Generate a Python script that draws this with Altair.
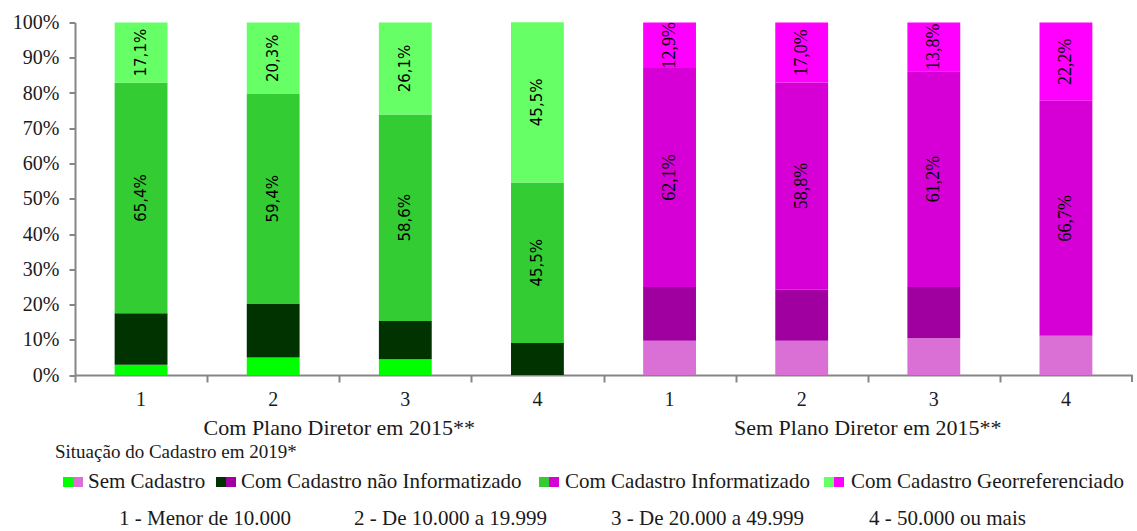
import altair as alt
import pandas as pd

# --- data -----------------------------------------------------------------
slots = ["C1", "C2", "C3", "C4", "S1", "S2", "S3", "S4"]
sides = ["Com", "Com", "Com", "Com", "Sem", "Sem", "Sem", "Sem"]
size_classes = ["1", "2", "3", "4", "1", "2", "3", "4"]
group_names = ["Com Plano Diretor em 2015**", "Sem Plano Diretor em 2015**"]
group_anchor = ["C2", "S2"]

statuses = [
    "Sem Cadastro",
    "Com Cadastro não Informatizado",
    "Com Cadastro Informatizado",
    "Com Cadastro Georreferenciado",
]
sem_cadastro = [2.9, 5.0, 4.5, 0.0, 9.7, 9.7, 10.4, 11.1]
nao_informatizado = [14.6, 15.3, 10.8, 9.1, 15.3, 14.5, 14.6, 0.0]
informatizado = [65.4, 59.4, 58.6, 45.5, 62.1, 58.8, 61.2, 66.7]
georreferenciado = [17.1, 20.3, 26.1, 45.5, 12.9, 17.0, 13.8, 22.2]

size_legend = [
    "1 - Menor de 10.000",
    "2 - De 10.000 a 19.999",
    "3 - De 20.000 a 49.999",
    "4 - 50.000 ou mais",
]

com_colors = ["#00FF00", "#003300", "#33CC33", "#66FF66"]
sem_colors = ["#DA70D6", "#A0009F", "#D600D6", "#FF00FF"]

# --- long table -------------------------------------------------------------
series = [sem_cadastro, nao_informatizado, informatizado, georreferenciado]
rows = []
for i, slot in enumerate(slots):
    for r, (status, vals) in enumerate(zip(statuses, series)):
        v = vals[i]
        rows.append({
            "slot": slot,
            "side": sides[i],
            "status": status,
            "key": sides[i] + "|" + status,
            "rank": r,
            "value": v,
            "label": f"{v:.1f}".replace(".", ",") + "%",
        })
df = pd.DataFrame(rows)

color_domain = ["Com|" + s for s in statuses] + ["Sem|" + s for s in statuses]
color_range = com_colors + sem_colors

W, H = 1057, 352.5
LEFT, TOP = 75, 22.5
PAD_INNER, PAD_OUTER = 0.6, 0.3
STEP = W / (len(slots) - PAD_INNER + 2 * PAD_OUTER)
SERIF = "Liberation Serif"
AXIS_GREY = "#868686"
INK = "#1a1a1a"

# shared scales and axes (identical in every layer so that they merge cleanly)
x_scale = alt.Scale(paddingInner=PAD_INNER, paddingOuter=PAD_OUTER)
x_axis = alt.Axis(
    labels=False, title=None, ticks=True, tickSize=7,
    bandPosition=0, tickOffset=-PAD_OUTER * STEP,
    domainColor=AXIS_GREY, tickColor=AXIS_GREY, domainWidth=2, tickWidth=2,
)
y_scale = alt.Scale(domain=[0, 100], nice=False)
y_axis = alt.Axis(
    values=list(range(0, 101, 10)),
    labelExpr="datum.value + '%'",
    labelOverlap=False,
    title=None, grid=False,
    domainColor=AXIS_GREY, tickColor=AXIS_GREY, domainWidth=2, tickWidth=2,
    tickSize=6, labelPadding=10,
    labelFont=SERIF, labelFontSize=20, labelColor=INK,
)
x_slot = alt.X("slot:N", sort=slots, scale=x_scale, axis=x_axis)

bars = alt.Chart(df).mark_bar().encode(
    x=x_slot,
    y=alt.Y("value:Q", stack="zero", scale=y_scale, axis=y_axis),
    color=alt.Color("key:N", scale=alt.Scale(domain=color_domain, range=color_range), legend=None),
    order=alt.Order("rank:Q", sort="ascending"),
)

stacked = (
    alt.Chart(df)
    .transform_stack(stack="value", groupby=["slot"],
                     sort=[alt.SortField("rank", "ascending")], as_=["v0", "v1"])
    .transform_calculate(mid="(datum.v0 + datum.v1) / 2")
)
shown = "datum.rank >= 2"
y_mid = alt.Y("mid:Q", scale=y_scale, axis=y_axis)
labels_com = stacked.transform_filter(shown + " && datum.side == 'Com'").mark_text(
    angle=270, font="DejaVu Sans", fontSize=15, color="black", baseline="middle", align="center"
).encode(x=x_slot, y=y_mid, text="label:N")
labels_sem = stacked.transform_filter(shown + " && datum.side == 'Sem'").mark_text(
    angle=270, font=SERIF, fontSize=18, color="black", baseline="middle", align="center"
).encode(x=x_slot, y=y_mid, text="label:N")

# category numbers under the bars
cat_df = pd.DataFrame({"slot": slots, "cls": size_classes})
cat_labels = alt.Chart(cat_df).mark_text(
    font=SERIF, fontSize=20, color=INK, baseline="middle"
).encode(x=x_slot, y=alt.value(400 - TOP), text="cls:N")

# group names, centred between the 2nd and 3rd bar of each group
grp_df = pd.DataFrame({"slot": group_anchor, "name": group_names})
grp_labels = alt.Chart(grp_df).mark_text(
    font=SERIF, fontSize=22, color=INK, baseline="middle", dx=STEP / 2
).encode(x=x_slot, y=alt.value(428 - TOP), text="name:N")

one = alt.Data(values=[{}])

# closing tick at the right end of the category axis
end_tick = alt.Chart(one).mark_rule(color=AXIS_GREY, strokeWidth=2).encode(
    x=alt.value(W), y=alt.value(H), y2=alt.value(H + 7)
)


def text_at(txt, px, py, size=21, align="left"):
    return alt.Chart(one).mark_text(
        text=txt, font=SERIF, fontSize=size, color=INK, align=align, baseline="middle"
    ).encode(x=alt.value(px - LEFT), y=alt.value(py - TOP))


def swatch(color, px, py):
    return alt.Chart(one).mark_square(size=100, color=color, opacity=1).encode(
        x=alt.value(px - LEFT), y=alt.value(py - TOP)
    )


legend_layers = [text_at("Situação do Cadastro em 2019*", 55, 452, size=19)]
LEG_Y = 482
item_x = [(68, 88), (221, 241), (544, 565), (829, 851)]
for (sx, tx), status, cg, cm in zip(item_x, statuses, com_colors, sem_colors):
    legend_layers += [swatch(cg, sx, LEG_Y), swatch(cm, sx + 10, LEG_Y), text_at(status, tx, LEG_Y)]

for txt, px in zip(size_legend, [119, 354, 611, 869]):
    legend_layers.append(text_at(txt, px, 519))

chart = alt.layer(
    bars, labels_com, labels_sem, cat_labels, grp_labels, end_tick, *legend_layers
).properties(
    width=W, height=H,
    autosize=alt.AutoSizeParams(type="none"),
    padding={"left": LEFT, "top": TOP, "right": 5, "bottom": 531 - TOP - H},
    background="white",
).configure_view(stroke=None)

chart.save("out.html", embed_options={"renderer": "svg", "actions": False})
